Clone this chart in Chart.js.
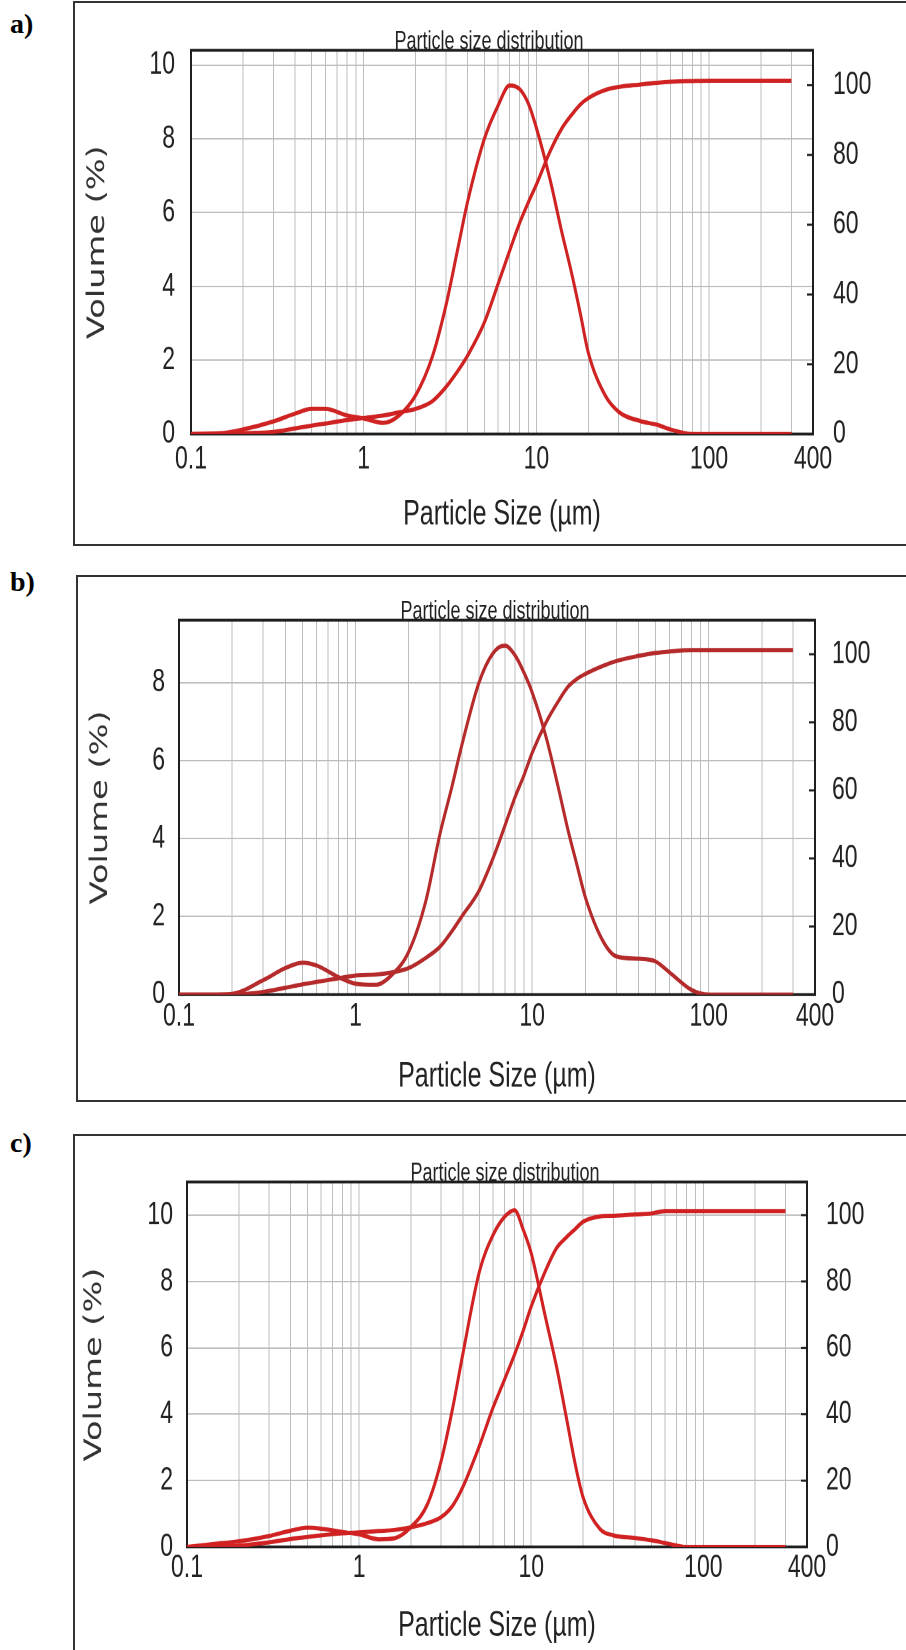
<!DOCTYPE html>
<html>
<head>
<meta charset="utf-8">
<script src="https://cdn.jsdelivr.net/npm/chart.js@4.4.1/dist/chart.umd.min.js"></script>
<style>
    html, body { margin: 0; padding: 0; background: #fff; }
    body { width: 906px; height: 1650px; position: relative; overflow: hidden; }
    .frame { position: absolute; border: 2px solid #333; box-sizing: border-box; }
    .tag { position: absolute; left: 10px; font: bold 28px "Liberation Serif", "Times New Roman", serif; line-height: 28px; color: #000; }
    .wrap { position: absolute; transform-origin: 0 0; }
</style>
</head>
<body>
<script>
// particle sizes (µm) shared by the three measurements
const sizes = [0.1, 0.15, 0.2, 0.3, 0.4, 0.5, 0.6, 0.8, 1.0, 1.3, 1.6, 2.0, 2.5, 3.0, 3.5, 4.0, 5.0, 6.0, 7.0, 8.0,
    9.0, 10, 12, 14, 16, 18, 20, 25, 30, 40, 50, 60, 80, 100, 150, 200, 300];

// volume (%) - left axis
const volumeA = [0, 0.02, 0.12, 0.34, 0.55, 0.68, 0.68, 0.5, 0.42, 0.3, 0.5, 1.05, 2.1, 3.5, 5.0, 6.3, 8.0, 8.9, 9.45, 9.35,
    8.95, 8.3, 6.9, 5.5, 4.36, 3.25, 2.2, 1.05, 0.6, 0.35, 0.25, 0.12, 0, 0, 0, 0, 0];
const volumeB = [0, 0, 0.02, 0.37, 0.68, 0.82, 0.75, 0.45, 0.28, 0.25, 0.5, 1.1, 2.4, 4.1, 5.3, 6.4, 8.0, 8.75, 8.95, 8.7,
    8.25, 7.75, 6.6, 5.35, 4.2, 3.3, 2.5, 1.4, 0.98, 0.92, 0.85, 0.57, 0.12, 0, 0, 0, 0];
const volumeC = [0, 0.1, 0.17, 0.33, 0.49, 0.58, 0.55, 0.45, 0.38, 0.23, 0.26, 0.6, 1.3, 2.6, 4.2, 5.8, 8.3, 9.4, 9.95, 10.15,
    9.55, 8.85, 7.0, 5.45, 3.9, 2.5, 1.5, 0.55, 0.35, 0.27, 0.2, 0.12, 0, 0, 0, 0, 0];

// cumulative volume (%) - right axis
const cumulativeA = [0, 0, 0.2, 0.6, 1.6, 2.4, 3.0, 4.0, 4.6, 5.3, 6.2, 7.2, 9.4, 13.5, 18, 22.5, 32, 43, 52.5, 60.5,
    66.5, 71.5, 81, 87.5, 91.5, 94.5, 96.3, 98.6, 99.5, 100.2, 100.7, 101, 101.2, 101.3, 101.3, 101.3, 101.3];
const cumulativeB = [0, 0, 0, 0.8, 2.0, 3.0, 3.7, 4.8, 5.6, 5.9, 6.5, 7.8, 10.8, 14, 18.5, 23, 30.5, 40, 49.5, 58,
    64.5, 71, 80, 86, 90.5, 92.8, 94.2, 96.5, 98, 99.5, 100.4, 100.8, 101.2, 101.2, 101.2, 101.2, 101.2];
const cumulativeC = [0, 0.1, 0.4, 1.4, 2.4, 3.0, 3.5, 4.1, 4.4, 4.8, 5.1, 5.9, 7.2, 9.0, 12.5, 18.0, 30.5, 42, 50.5, 58,
    65.3, 72.5, 82.8, 90, 93.3, 95.8, 98, 99.6, 99.8, 100.2, 100.5, 101.2, 101.2, 101.2, 101.2, 101.2, 101.2];

// axis ticks
const xGridLines = [0.1, 0.2, 0.3, 0.4, 0.5, 0.6, 0.7, 0.8, 0.9, 1, 2, 3, 4, 5, 6, 7, 8, 9,
    10, 20, 30, 40, 50, 60, 70, 80, 90, 100, 200, 300, 400];
const xTickLabels = [0.1, 1, 10, 100, 400];

const series = {
    a: { volume: volumeA, cumulative: cumulativeA },
    b: { volume: volumeB, cumulative: cumulativeB },
    c: { volume: volumeC, cumulative: cumulativeC },
};

// the source figure is stretched vertically
const K = 1.4;

const panels = [
    { key: 'a', tagTop: 10, frame: [73, 1, 546], plot: [191, 32, 813, 434], yMax: 10.4, color: '#cf2222',
        labelY: 460, xTitleY: 515, yTitleX: 98, leftGap: 16, rightGap: 20, titleX: 489 },
    { key: 'b', tagTop: 568, frame: [76, 575, 1102], plot: [179, 603, 815, 994], yMax: 9.6, color: '#b52b2b',
        labelY: 1016, xTitleY: 1076, yTitleX: 101, leftGap: 14, rightGap: 17, titleX: 495 },
    { key: 'c', tagTop: 1129, frame: [73, 1134, 1665], plot: [187, 1162, 807, 1547], yMax: 11, color: '#d02222',
        labelY: 1568, xTitleY: 1626, yTitleX: 95, leftGap: 14, rightGap: 19, titleX: 505 },
];

const tickFont = { family: '"Liberation Sans", Arial, sans-serif', size: 23 };
const GRID = '#bdbdbd';
const INK = '#1e1e1e';

const plotFrame = {
    id: 'plotFrame',
    beforeDatasetsDraw(chart, _args, opts) {
        const { ctx, chartArea: a } = chart;
        const y2 = chart.scales.y2;
        ctx.save();
        ctx.strokeStyle = INK;
        ctx.lineWidth = 1.5;
        y2.ticks.forEach((t) => {
            const y = y2.getPixelForValue(t.value);
            ctx.beginPath();
            ctx.moveTo(a.right - 6, y);
            ctx.lineTo(a.right, y);
            ctx.stroke();
        });
        ctx.lineWidth = 2;
        ctx.strokeRect(a.left, a.top, a.right - a.left, a.bottom - a.top);
        ctx.fillStyle = '#222';
        ctx.font = '18px "Liberation Sans", Arial, sans-serif';
        ctx.textAlign = 'center';
        ctx.textBaseline = 'alphabetic';
        ctx.fillText(opts.text, opts.x, a.top - 1);
        ctx.restore();
    },
};

panels.forEach((p) => {
    const [fl, ft, fb] = p.frame;

    const frame = document.createElement('div');
    frame.className = 'frame';
    Object.assign(frame.style, { left: fl + 'px', top: ft + 'px', width: (930 - fl) + 'px', height: (fb - ft) + 'px' });
    document.body.appendChild(frame);

    const tag = document.createElement('div');
    tag.className = 'tag';
    tag.style.top = p.tagTop + 'px';
    tag.textContent = p.key + ')';
    document.body.appendChild(tag);

    const wl = fl + 2;
    const wt = ft + 2;
    const W = 906 - wl;
    const H = Math.min(fb - 2, 1650) - wt;
    const h = H / K;

    const wrap = document.createElement('div');
    wrap.className = 'wrap';
    Object.assign(wrap.style, { left: wl + 'px', top: wt + 'px', width: W + 'px', height: h + 'px', transform: `scaleY(${K})` });
    const canvas = document.createElement('canvas');
    wrap.appendChild(canvas);
    document.body.appendChild(wrap);

    const [pl, pt, pr, pb] = p.plot;
    const padTop = (pt - wt) / K;
    const bottomH = (wt + H - pb) / K;
    const leftW = pl - wl;
    const rightW = wl + W - pr;
    const tickLh = tickFont.size * 1.2;
    const xLabelPad = (p.labelY - pb) / K - tickLh / 2;
    const xTitlePad = (wt + H - p.xTitleY) / K - 15;
    const yTitlePad = p.yTitleX - wl - 14.4;

    const s = series[p.key];
    const line = (values, axis) => ({
        data: sizes.map((x, i) => ({ x, y: values[i] })),
        yAxisID: axis,
        borderColor: p.color,
        borderWidth: 3,
        borderJoinStyle: 'round',
        pointRadius: 0,
        cubicInterpolationMode: 'monotone',
    });

    new Chart(canvas, {
        type: 'line',
        data: { datasets: [line(s.volume, 'y'), line(s.cumulative, 'y2')] },
        options: {
            responsive: true,
            maintainAspectRatio: false,
            animation: false,
            devicePixelRatio: 2,
            layout: { padding: { top: padTop, left: 0, right: 0, bottom: 0 } },
            plugins: {
                legend: { display: false },
                tooltip: { enabled: false },
                plotFrame: { text: 'Particle size distribution', x: p.titleX - wl },
            },
            scales: {
                x: {
                    type: 'logarithmic',
                    min: 0.1,
                    max: 400,
                    afterBuildTicks: (sc) => { sc.ticks = xGridLines.map((v) => ({ value: v })); },
                    afterFit: (sc) => { sc.height = bottomH; },
                    grid: { color: GRID, lineWidth: 1, drawTicks: false },
                    border: { display: false },
                    ticks: {
                        autoSkip: false, maxRotation: 0, minRotation: 0,
                        padding: xLabelPad, color: '#222', font: tickFont,
                        callback: (v) => (xTickLabels.includes(v) ? String(v) : ''),
                    },
                    title: {
                        display: true, text: 'Particle Size (µm)', color: '#222',
                        font: { family: '"Liberation Sans", Arial, sans-serif', size: 25, lineHeight: 1.2 },
                        padding: { top: 0, bottom: xTitlePad },
                    },
                },
                y: {
                    type: 'linear',
                    position: 'left',
                    min: 0,
                    max: p.yMax,
                    afterFit: (sc) => { sc.width = leftW; },
                    grid: { color: GRID, lineWidth: 1, drawTicks: false },
                    border: { display: false },
                    ticks: { stepSize: 2, includeBounds: false, padding: p.leftGap, color: '#222', font: tickFont },
                    title: {
                        display: true, text: 'Volume (%)', color: '#333',
                        font: { family: '"DejaVu Sans", Verdana, sans-serif', size: 24, lineHeight: 1.2 },
                        padding: { top: yTitlePad, bottom: 0 },
                    },
                },
                y2: {
                    type: 'linear',
                    position: 'right',
                    min: 0,
                    max: 110,
                    afterFit: (sc) => { sc.width = rightW; },
                    grid: { display: false, drawTicks: false },
                    border: { display: false },
                    ticks: { stepSize: 20, includeBounds: false, padding: p.rightGap, color: '#222', font: tickFont },
                },
            },
        },
        plugins: [plotFrame],
    });
});
</script>
</body>
</html>
